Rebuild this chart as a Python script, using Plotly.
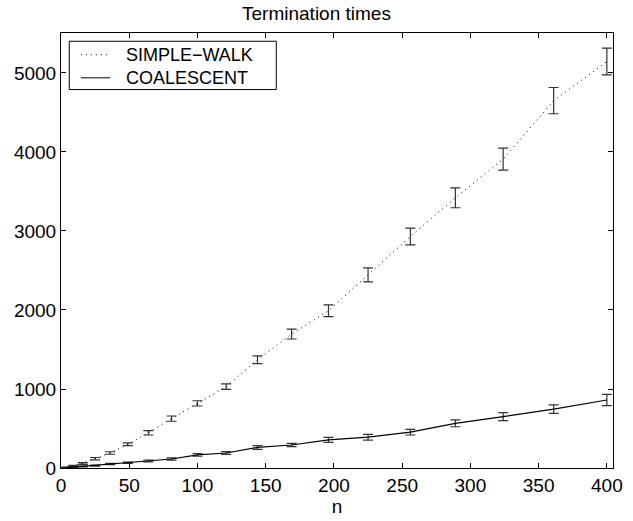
import plotly.graph_objects as go

n_values = [4, 9, 16, 25, 36, 49, 64, 81, 100, 121, 144, 169, 196, 225, 256, 289, 324, 361, 400]

simple_walk = [8, 25, 57, 118, 190, 300, 445, 625, 818, 1030, 1370, 1695, 1990, 2445, 2930, 3420, 3910, 4650, 5145]
simple_walk_err = [4, 8, 10, 15, 16, 18, 27, 33, 33, 34, 50, 62, 74, 88, 105, 126, 139, 166, 170]

coalescent = [5, 12, 20, 30, 50, 67, 89, 114, 165, 190, 260, 291, 356, 390, 454, 565, 650, 745, 861]
coalescent_err = [3, 4, 5, 6, 8, 9, 12, 14, 16, 18, 24, 21, 32, 36, 36, 43, 50, 53, 72]

series_names = ["SIMPLE\u2212WALK", "COALESCENT"]

x_ticks = [0, 50, 100, 150, 200, 250, 300, 350, 400]
y_ticks = [0, 1000, 2000, 3000, 4000, 5000]

FAM = "Liberation Sans, Arial, Helvetica, sans-serif"
FS = 19
LEG_FS = 18
DOT = "1px,4px"

fig = go.Figure()
fig.add_trace(go.Scatter(
    x=n_values, y=simple_walk, mode="lines", name=series_names[0],
    line=dict(color="black", width=1, dash=DOT),
    error_y=dict(type="data", array=simple_walk_err, visible=True,
                 color="#333333", thickness=1.2, width=5),
    showlegend=False,
))
fig.add_trace(go.Scatter(
    x=n_values, y=coalescent, mode="lines", name=series_names[1],
    line=dict(color="black", width=1.2),
    error_y=dict(type="data", array=coalescent_err, visible=True,
                 color="#333333", thickness=1.2, width=5),
    showlegend=False,
))

# Legend box (drawn as decoration, MATLAB style)
leg_x0, leg_x1, leg_y0, leg_y1 = 0.015, 0.39, 0.870, 0.981
row_y = [0.950, 0.897]
line_x0, line_x1, text_x = 0.036, 0.089, 0.114
shapes = [dict(type="rect", xref="paper", yref="paper", x0=leg_x0, x1=leg_x1, y0=leg_y0, y1=leg_y1,
               line=dict(color="black", width=1), fillcolor="white", layer="above")]
dashes = [DOT, "solid"]
annotations = []
for i, name in enumerate(series_names):
    shapes.append(dict(type="line", xref="paper", yref="paper", x0=line_x0, x1=line_x1,
                       y0=row_y[i], y1=row_y[i], line=dict(color="black", width=1, dash=dashes[i]),
                       layer="above"))
    annotations.append(dict(xref="paper", yref="paper", x=text_x, y=row_y[i], text=name,
                            showarrow=False, xanchor="left", yanchor="middle",
                            font=dict(family=FAM, size=LEG_FS, color="black")))

fig.update_layout(
    width=633, height=521,
    paper_bgcolor="white", plot_bgcolor="white",
    margin=dict(l=61, r=20, t=33, b=53),
    font=dict(family=FAM, size=FS, color="black"),
    title=dict(text="Termination times", x=0.5, xanchor="center", y=0.975, yanchor="middle",
               font=dict(family=FAM, size=FS, color="black")),
    showlegend=False,
    shapes=shapes,
    annotations=annotations,
    xaxis=dict(range=[0, 404.5], tickvals=x_ticks, ticks="inside", ticklen=5,
               showline=True, linecolor="black", linewidth=1, mirror="allticks",
               showgrid=False, zeroline=False, tickcolor="black", automargin=False,
               tickfont=dict(family=FAM, size=FS, color="black"),
               title=dict(text="n", standoff=4, font=dict(family=FAM, size=FS, color="black"))),
    yaxis=dict(range=[0, 5506], tickvals=y_ticks, ticks="inside", ticklen=5,
               showline=True, linecolor="black", linewidth=1, mirror="allticks",
               showgrid=False, zeroline=False, tickcolor="black", automargin=False,
               tickfont=dict(family=FAM, size=FS, color="black")),
)

fig.write_html("out.html", config={"displayModeBar": False},
               post_script="document.body.style.margin='0';document.body.style.padding='0';")
